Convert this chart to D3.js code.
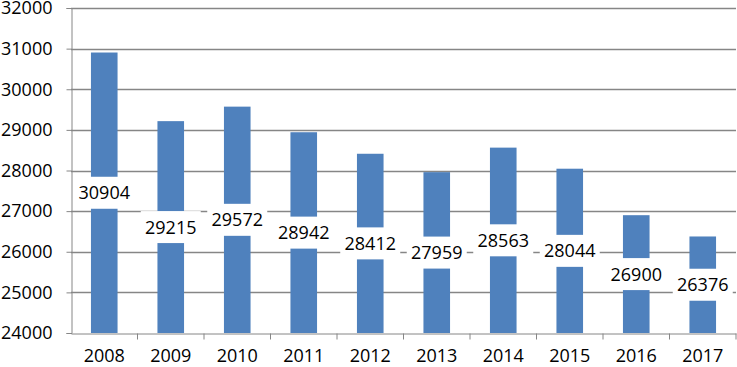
<!DOCTYPE html>
<meta charset="utf-8">
<script src="https://d3js.org/d3.v7.min.js"></script>
<style>
  body { margin: 0; background: #fff; }
  text { font-family: "Open Sans", "Liberation Sans", sans-serif; fill: #000; }
</style>
<div id="chart"></div>
<script>
    const years = ["2008","2009","2010","2011","2012","2013","2014","2015","2016","2017"]
    const values = [30904, 29215, 29572, 28942, 28412, 27959, 28563, 28044, 26900, 26376]
    const yTicks = [24000, 25000, 26000, 27000, 28000, 29000, 30000, 31000, 32000]

    const W = 737, H = 367
    const margin = {top: 8, right: 1, bottom: 34, left: 71},
        width = W - margin.left - margin.right,
        height = H - margin.top - margin.bottom

    const svg = d3.select("#chart")
        .append("svg")
            .attr("width", W)
            .attr("height", H)
        .append("g")
            .attr("transform", `translate(${margin.left},${margin.top})`)

    const x = d3.scaleBand()
        .domain(years)
        .range([0, width])
        .paddingInner(0.6)
        .paddingOuter(0.3)
    const xb = d3.scaleBand().domain(years).range([0, width])

    const y = d3.scaleLinear()
        .domain([24000, 32000])
        .range([height, 0])

    // gridlines
    svg.append("g")
        .selectAll("line")
        .data(yTicks.slice(1))
        .join("line")
            .attr("x1", 0)
            .attr("x2", width)
            .attr("y1", d => Math.round(y(d)) + 0.5)
            .attr("y2", d => Math.round(y(d)) + 0.5)
            .attr("stroke", "#868686")
            .attr("stroke-width", 1.3)

    // y axis
    const yAxis = svg.append("g")
        .attr("transform", "translate(0.5,0)")
        .call(d3.axisLeft(y).tickValues(yTicks).tickSize(5).tickPadding(14).tickFormat(d3.format("d")))
    yAxis.selectAll("line,path").attr("stroke", "#868686")
    yAxis.selectAll("text").attr("font-size", 18).attr("font-family", '"Open Sans", sans-serif').attr("fill", "#000")

    // x axis
    const xAxis = svg.append("g")
        .attr("transform", `translate(0,${Math.round(height) + 0.5})`)
        .call(d3.axisBottom(xb).tickSize(0).tickPadding(16))
    xAxis.select("path").attr("stroke", "#868686")
    xAxis.selectAll("text").attr("font-size", 18).attr("font-family", '"Open Sans", sans-serif').attr("fill", "#000")
    xAxis.selectAll(".sep")
        .data(years.slice(1).concat(["end"]))
        .join("line")
            .attr("class", "sep")
            .attr("x1", (d, i) => xb.step() * (i + 1))
            .attr("x2", (d, i) => xb.step() * (i + 1))
            .attr("y1", 0)
            .attr("y2", 6)
            .attr("stroke", "#868686")

    // bars
    svg.append("g")
        .selectAll("rect")
        .data(values)
        .join("rect")
            .attr("x", (d, i) => x(years[i]))
            .attr("y", d => y(d))
            .attr("width", x.bandwidth())
            .attr("height", d => y(24000) - y(d))
            .attr("fill", "#4f81bd")

    // data labels
    const lab = svg.append("g")
        .selectAll("g")
        .data(values)
        .join("g")
            .attr("transform", (d, i) => `translate(${xb(years[i]) + xb.bandwidth() / 2},${(y(d) + y(24000)) / 2})`)
    lab.append("rect")
        .attr("x", -30)
        .attr("y", -16)
        .attr("width", 60)
        .attr("height", 32)
        .attr("fill", "#fff")
    lab.append("text")
        .attr("text-anchor", "middle")
        .attr("dy", "0.36em")
        .attr("font-size", 18)
        .text(d => d)
</script>
